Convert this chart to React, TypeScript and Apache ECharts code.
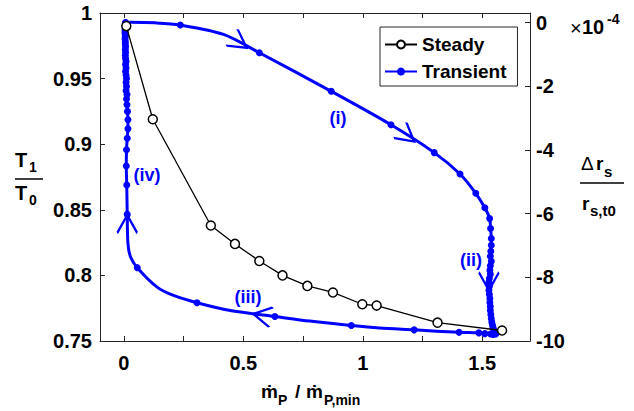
import React, { useEffect, useRef } from 'react';
import * as echarts from 'echarts';

// ---------- data ----------
const steadyX = [0.010, 0.121, 0.364, 0.465, 0.567, 0.664, 0.768, 0.875, 0.998, 1.058, 1.313, 1.583];
const steadyY = [0.990, 0.919, 0.838, 0.824, 0.811, 0.800, 0.792, 0.787, 0.778, 0.777, 0.764, 0.758];

// transient loop, in time order; marker flag 1 = shown dot, 0 = curve point only
const transientX = [
  0.007, 0.028, 0.132, 0.236, 0.417, 0.567, 0.868, 1.118, 1.299, 1.407,
  1.473, 1.511, 1.531, 1.535, 1.538, 1.538, 1.536, 1.534, 1.538, 1.534,
  1.532, 1.534, 1.530, 1.528, 1.530, 1.528, 1.530, 1.532, 1.532, 1.534,
  1.534, 1.536, 1.538, 1.540, 1.543, 1.545, 1.549, 1.553, 1.557, 1.546,
  1.535, 1.511, 1.486, 1.403, 1.215, 1.069, 0.952, 0.778, 0.632, 0.445,
  0.306, 0.208, 0.139, 0.056, 0.028, 0.017, 0.014, 0.012, 0.010, 0.011,
  0.014, 0.017, 0.017, 0.015, 0.013, 0.011, 0.013, 0.009, 0.011, 0.009,
  0.011, 0.009, 0.007, 0.009, 0.007, 0.009, 0.007, 0.006, 0.007, 0.006,
  0.007, 0.006, 0.006, 0.005, 0.006, 0.005, 0.005, 0.005, 0.006, 0.006,
  0.007, 0.007,
];
const transientY = [
  0.9927, 0.9930, 0.9925, 0.9908, 0.9837, 0.9697, 0.9403, 0.9148, 0.8936, 0.8773,
  0.8626, 0.8515, 0.8434, 0.8358, 0.8281, 0.8230, 0.8184, 0.8146, 0.8107, 0.8073,
  0.8039, 0.8008, 0.7977, 0.7947, 0.7916, 0.7886, 0.7855, 0.7824, 0.7794, 0.7763,
  0.7732, 0.7702, 0.7671, 0.7644, 0.7621, 0.7602, 0.7583, 0.7567, 0.7554, 0.7550,
  0.7554, 0.7556, 0.7562, 0.7566, 0.7585, 0.7599, 0.7618, 0.7652, 0.7687, 0.7732,
  0.7791, 0.7847, 0.7911, 0.8059, 0.8140, 0.8243, 0.8465, 0.8689, 0.8834, 0.8957,
  0.9046, 0.9118, 0.9187, 0.9250, 0.9301, 0.9345, 0.9378, 0.9408, 0.9439, 0.9470,
  0.9500, 0.9527, 0.9554, 0.9581, 0.9607, 0.9630, 0.9653, 0.9676, 0.9699, 0.9722,
  0.9745, 0.9764, 0.9783, 0.9803, 0.9822, 0.9841, 0.9856, 0.9871, 0.9887, 0.9902,
  0.9914, 0.9925,
];
const transientMarker = [
  1, 0, 0, 1, 0, 1, 1, 1, 1, 1,
  1, 1, 1, 1, 1, 1, 1, 1, 1, 1,
  1, 1, 1, 1, 1, 1, 1, 1, 1, 1,
  1, 1, 1, 1, 1, 1, 1, 1, 1, 1,
  1, 1, 1, 1, 1, 0, 1, 0, 1, 0,
  1, 0, 0, 1, 0, 0, 1, 1, 1, 1,
  1, 1, 1, 1, 1, 1, 1, 1, 1, 1,
  1, 1, 1, 1, 1, 1, 1, 1, 1, 1,
  1, 1, 1, 1, 1, 1, 1, 1, 1, 1,
  1, 1,
];

// direction arrows on the transient loop
const arrowX = [0.514, 1.215, 1.528, 0.542, 0.014];
const arrowY = [0.9735, 0.902, 0.7886, 0.7707, 0.846];
const arrowAngle = [-35, -39, -90, 169, 90];

const xTicks = [0, 0.25, 0.5, 0.75, 1, 1.25, 1.5];
const xTickLabels = [0, 0.5, 1, 1.5];
const yRightTicks = [-10, -8, -6, -4, -2, 0];
const stageLabels = ['(i)', '(ii)', '(iii)', '(iv)'];

// ---------- style ----------
const FONT = '"Liberation Sans", Arial, Helvetica, sans-serif';
const AX = '#262626';
const BLUE = '#0000ff';
const TICK_FS = 20;

const txt = (text: string, x: number, y: number, size: number, opts: any = {}) => ({
  type: 'text',
  x,
  y,
  silent: true,
  style: {
    text,
    fill: opts.fill || '#000',
    font: `${opts.weight || 'bold'} ${size}px ${FONT}`,
    align: opts.align || 'left',
    verticalAlign: 'middle',
  },
});
const hline = (x1: number, x2: number, y: number) => ({
  type: 'line',
  silent: true,
  shape: { x1, y1: y, x2, y2: y },
  style: { stroke: '#000', lineWidth: 1.5 },
});

const labelPos = [
  [338, 118],
  [471, 260],
  [248, 297],
  [147, 175],
];

const axisCommon = {
  axisLine: { show: true, onZero: false, lineStyle: { color: AX, width: 1 } },
  splitLine: { show: false },
};

const option: any = {
  animation: false,
  textStyle: { fontFamily: FONT },
  grid: { left: 100, right: 104, top: 13, bottom: 70, containLabel: false },
  legend: {
    data: ['Steady', 'Transient'],
    orient: 'vertical',
    left: 380,
    top: 27,
    padding: [8, 11, 5, 4],
    itemGap: 8,
    itemWidth: 32,
    itemHeight: 10,
    itemTextGap: 4,
    borderColor: AX,
    borderWidth: 1,
    backgroundColor: '#fff',
    textStyle: { fontSize: 19, fontWeight: 'bold', color: '#000', fontFamily: FONT },
  },
  xAxis: [
    {
      type: 'value',
      min: -0.1,
      max: 1.7,
      position: 'bottom',
      ...axisCommon,
      axisTick: { show: true, inside: true, length: 5, customValues: xTicks, lineStyle: { color: AX } },
      axisLabel: {
        customValues: xTickLabels,
        color: '#000',
        fontSize: TICK_FS,
        fontWeight: 'bold',
        margin: 12,
        fontFamily: FONT,
      },
    },
    {
      type: 'value',
      min: -0.1,
      max: 1.7,
      position: 'top',
      ...axisCommon,
      axisTick: { show: true, inside: true, length: 5, customValues: xTicks, lineStyle: { color: AX } },
      axisLabel: { show: false },
    },
  ],
  yAxis: [
    {
      type: 'value',
      min: 0.75,
      max: 1,
      interval: 0.05,
      position: 'left',
      ...axisCommon,
      axisTick: { show: true, inside: true, length: 5, lineStyle: { color: AX } },
      axisLabel: { color: '#000', fontSize: TICK_FS, fontWeight: 'bold', margin: 8, fontFamily: FONT },
    },
    {
      type: 'value',
      min: -10,
      max: 0.3,
      position: 'right',
      ...axisCommon,
      axisTick: { show: true, inside: true, length: 5, customValues: yRightTicks, lineStyle: { color: AX } },
      axisLabel: {
        customValues: yRightTicks,
        color: '#000',
        fontSize: TICK_FS,
        fontWeight: 'bold',
        margin: 6,
        fontFamily: FONT,
      },
    },
  ],
  series: [
    {
      name: 'Transient',
      type: 'line',
      xAxisIndex: 0,
      yAxisIndex: 0,
      data: transientX.map((x, i) =>
        transientMarker[i] ? [x, transientY[i]] : { value: [x, transientY[i]], symbol: 'none' }
      ),
      symbol: 'circle',
      symbolSize: 7,
      smooth: 0.3,
      lineStyle: { color: BLUE, width: 3 },
      itemStyle: { color: BLUE },
      emphasis: { disabled: true },
      z: 2,
      markPoint: {
        silent: true,
        symbol: 'path://M0 0L18 10L0 20M36 10',
        symbolSize: [36, 20],
        label: { show: false },
        itemStyle: { color: 'rgba(0,0,0,0)', borderColor: BLUE, borderWidth: 2.5 },
        data: arrowX.map((x, i) => ({ coord: [x, arrowY[i]], symbolRotate: arrowAngle[i] })),
      },
    },
    {
      name: 'Steady',
      type: 'line',
      xAxisIndex: 0,
      yAxisIndex: 0,
      data: steadyX.map((x, i) => [x, steadyY[i]]),
      symbol: 'circle',
      symbolSize: 9,
      lineStyle: { color: '#000', width: 1.3 },
      itemStyle: { color: '#fff', borderColor: '#000', borderWidth: 1.5 },
      emphasis: { disabled: true },
      z: 3,
    },
  ],
  graphic: [
    // left axis name T1 / T0
    txt('T', 15, 160, 20),
    txt('1', 29, 167, 14),
    hline(15, 43, 179),
    txt('T', 15, 193, 20),
    txt('0', 29, 200, 14),
    // right axis name Δr_s / r_s,t0
    txt('Δ', 581, 163, 19, { weight: 'normal' }),
    txt('r', 596, 163, 19),
    txt('s', 604, 171, 15),
    hline(580, 624, 183),
    txt('r', 582, 203, 19),
    txt('s,t0', 590, 210, 15),
    // exponent
    txt('×', 570, 28, 20, { weight: 'normal' }),
    txt('10', 582, 27, 20),
    txt('-4', 607, 19, 14),
    // x axis name
    txt('ṁ', 261, 391, 19),
    txt('P', 278, 400, 14),
    txt('/', 295, 391, 19),
    txt('ṁ', 306, 391, 19),
    txt('P,min', 324, 400, 14),
    // stage labels
    ...stageLabels.map((s, i) => txt(s, labelPos[i][0], labelPos[i][1], 18, { fill: BLUE, align: 'center' })),
  ],
};

export default function App() {
  const ref = useRef<HTMLDivElement>(null);
  useEffect(() => {
    document.body.style.margin = '0';
    const chart = echarts.init(ref.current as HTMLDivElement, null, { renderer: 'svg' });
    chart.setOption(option);
    return () => chart.dispose();
  }, []);
  return <div ref={ref} style={{ width: 634, height: 411 }} />;
}
